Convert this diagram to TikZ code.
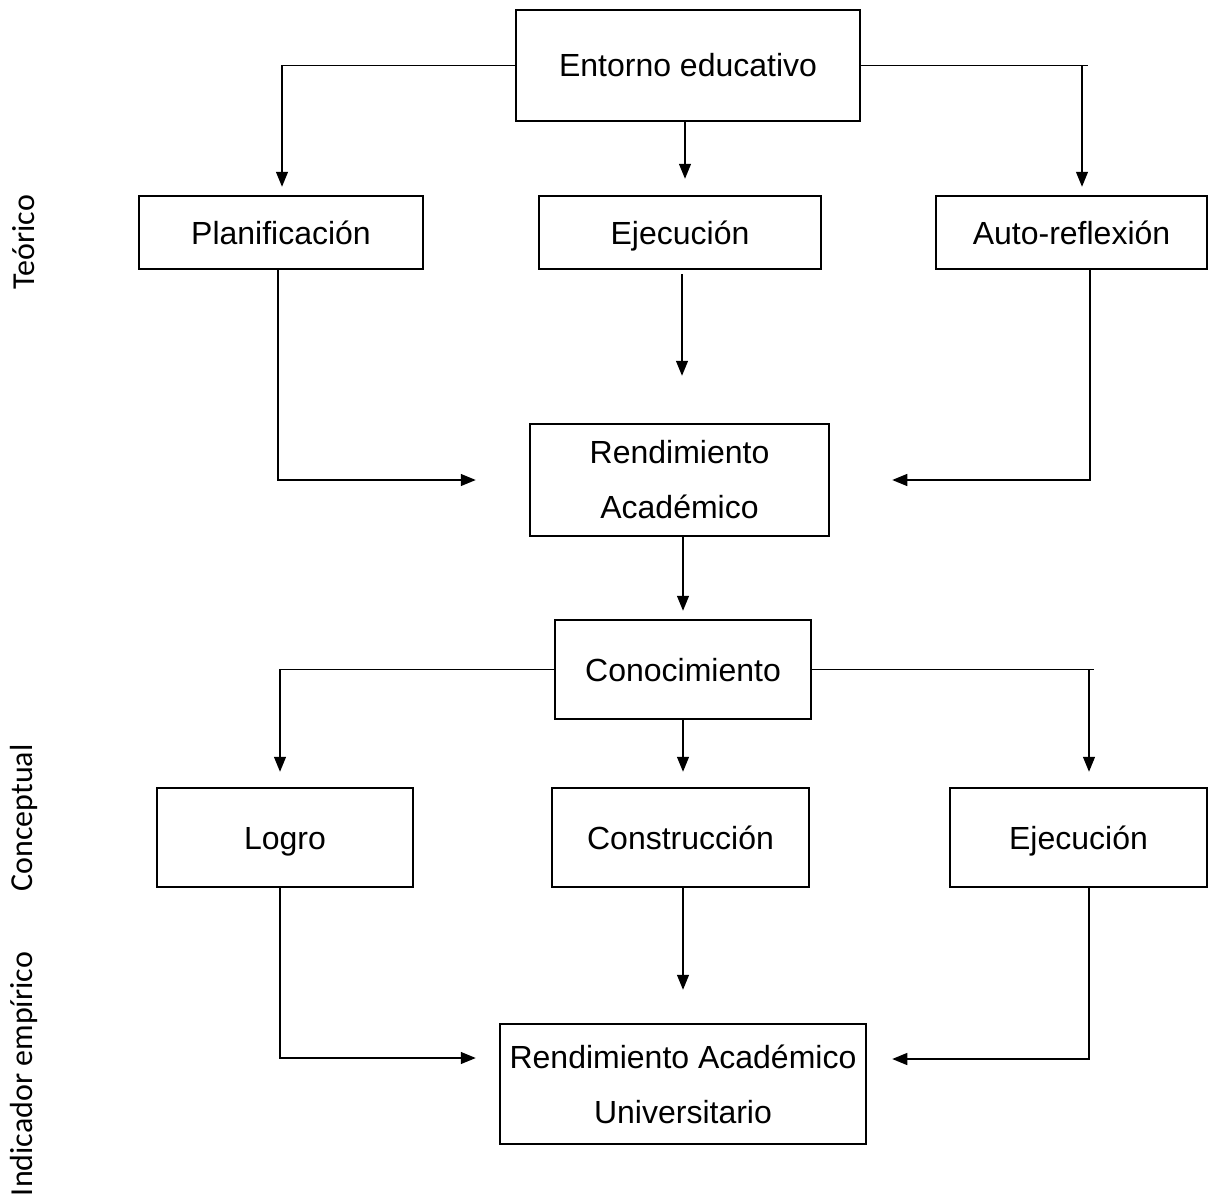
\documentclass[tikz,border=0pt]{standalone}
\usepackage{fontspec}
\setmainfont{Liberation Sans}
\newfontfamily\sidefont{Carlito}
\usetikzlibrary{arrows.meta}

\begin{document}
\begin{tikzpicture}[x=1pt,y=-1pt,
  caja/.style={draw,line width=2.5pt,align=center,inner sep=0pt,
    font=\fontsize{32}{55}\selectfont},
  una/.style={caja,text height=23pt,text depth=0pt},
  flecha/.style={line width=1.3pt,-{Triangle[length=15pt,width=12pt]}},
  linea/.style={line width=1.3pt},
  nivel/.style={rotate=90,inner sep=0pt,font=\sidefont\fontsize{32}{38}\selectfont}]
\useasboundingbox (0,0) rectangle (1209,1196);

% Niveles
\node[nivel] (teorico) at (24,242) {Teórico};
\node[nivel] (conceptual) at (24,818) {Conceptual};
\node[nivel] (indicador) at (24,1074) {Indicador empírico};

% Cajas
\node[una,minimum width=344pt,minimum height=111pt] (entorno) at (688,65.5) {Entorno educativo};
\node[una,minimum width=284pt,minimum height=73pt] (plan) at (281,232.5) {Planificación};
\node[una,minimum width=282pt,minimum height=73pt] (ejec) at (680,232.5) {Ejecución};
\node[una,minimum width=271pt,minimum height=73pt] (auto) at (1071.5,232.5) {Auto-reflexión};
\node[caja,minimum width=299pt,minimum height=112pt] (rend) at (679.5,480) {Rendimiento\\Académico};
\node[una,minimum width=256pt,minimum height=99pt] (conoc) at (683,669.5) {Conocimiento};
\node[una,minimum width=256pt,minimum height=99pt] (logro) at (285,837.5) {Logro};
\node[una,minimum width=257pt,minimum height=99pt] (constr) at (680.5,837.5) {Construcción};
\node[una,minimum width=257pt,minimum height=99pt] (ejecdos) at (1078.5,837.5) {Ejecución};
\node[caja,minimum width=366pt,minimum height=120pt] (final) at (683,1084) {Rendimiento Académico\\Universitario};

% Entorno educativo hacia la primera fila
\draw[linea] (entorno.east) -- ++(227,0);
\draw[flecha,shorten >=8pt] (entorno.west) -| ([xshift=1pt]plan.north);
\draw[flecha,shorten >=16pt] ([xshift=-3pt]entorno.south) -- ([xshift=-3pt]entorno.south |- ejec.north);
\draw[flecha,shorten >=8pt] (entorno.east) -| ([xshift=10.5pt]auto.north);

% primera fila hacia Rendimiento
\draw[flecha] ([xshift=-3pt]plan.south) |- ([xshift=-53pt]rend.west);
\draw[flecha,shorten <=4pt,shorten >=47pt] ([xshift=2pt]ejec.south) -- ([xshift=2pt]ejec.south |- rend.north);
\draw[flecha] ([xshift=18.5pt]auto.south) |- ([xshift=62pt]rend.east);
\draw[flecha,shorten >=8pt] ([xshift=3.5pt]rend.south) -- ([xshift=3.5pt]rend.south |- conoc.north);

% Conocimiento hacia la segunda fila
\draw[linea] (conoc.east) -- ++(282,0);
\draw[flecha,shorten >=15pt] (conoc.west) -| ([xshift=-5pt]logro.north);
\draw[flecha,shorten >=15pt] (conoc.south) -- (conoc.south |- constr.north);
\draw[flecha,shorten >=15pt] (conoc.east) -| ([xshift=10.5pt]ejecdos.north);

% segunda fila hacia Rendimiento Academico Universitario
\draw[flecha] ([xshift=-5pt]logro.south) |- ([xshift=-23pt,yshift=26pt]final.west);
\draw[flecha,shorten >=33pt] ([xshift=2.5pt]constr.south) -- ([xshift=2.5pt]constr.south |- final.north);
\draw[flecha] ([xshift=10.5pt]ejecdos.south) |- ([xshift=25pt,yshift=25pt]final.east);
\end{tikzpicture}
\end{document}
